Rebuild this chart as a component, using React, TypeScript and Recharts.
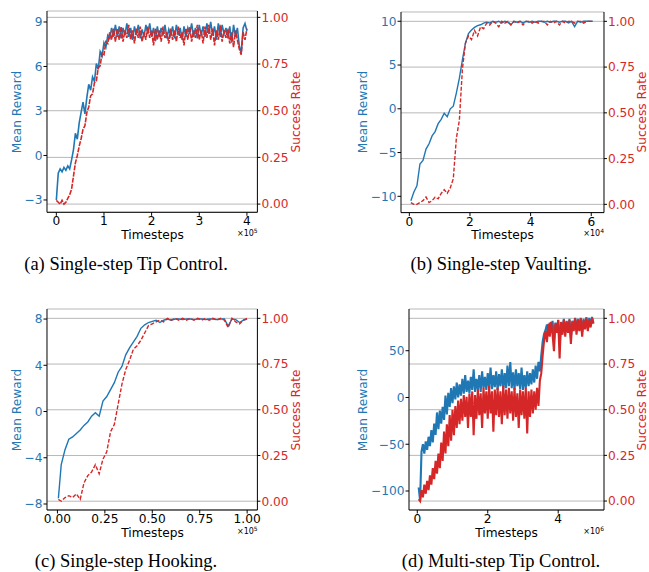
import React from 'react';
import { LineChart, Line, XAxis, YAxis, CartesianGrid } from 'recharts';

const BLUE = '#1f77b4';
const RED = '#d62728';
const FONT = '"DejaVu Sans", sans-serif';

// (a) Single-step Tip Control, timesteps x1e5
const tipSteps = [
  0, 0.04, 0.08, 0.12, 0.16, 0.2, 0.24, 0.28, 0.32, 0.36, 0.4, 0.44, 0.48, 0.52, 0.56, 0.6, 0.64, 0.68, 0.72, 0.76,
  0.8, 0.84, 0.88, 0.92, 0.96, 1.0, 1.04, 1.08, 1.12, 1.16, 1.2,
  1.24, 1.28, 1.32, 1.36, 1.4, 1.44, 1.48, 1.52, 1.56, 1.6,
  1.64, 1.68, 1.72, 1.76, 1.8, 1.84, 1.88, 1.92, 1.96, 2.0,
  2.04, 2.08, 2.12, 2.16, 2.2, 2.24, 2.28, 2.32, 2.36, 2.4,
  2.44, 2.48, 2.52, 2.56, 2.6, 2.64, 2.68, 2.72, 2.76, 2.8,
  2.84, 2.88, 2.92, 2.96, 3.0, 3.04, 3.08, 3.12, 3.16, 3.2,
  3.24, 3.28, 3.32, 3.36, 3.4, 3.44, 3.48, 3.52, 3.56, 3.6,
  3.64, 3.68, 3.72, 3.76, 3.8, 3.84, 3.88, 3.92, 3.96, 4.0,
];
const tipReward = [
  -3.0, -1.2, -0.9, -1.1, -0.8, -1.0, -0.7, -0.9, -0.3, 0.4, 1.5, 1.1, 2.2, 2.9, 3.6, 2.8, 3.9, 4.8, 4.4, 5.3,
  5.0, 6.2, 5.8, 7.0, 6.7, 7.6, 7.3, 8.1, 7.9, 8.6, 8.0,
  8.8, 8.0, 8.7, 7.9, 8.6, 8.1, 8.9, 8.0, 8.6, 7.8,
  8.7, 8.1, 8.8, 7.9, 8.5, 8.0, 8.8, 8.2, 8.9, 8.0,
  8.6, 7.7, 8.7, 8.0, 8.6, 8.1, 8.8, 7.9, 8.5, 8.1,
  8.7, 7.9, 8.8, 8.1, 8.6, 7.8, 8.7, 8.0, 8.6, 8.2,
  8.9, 8.0, 8.6, 7.9, 8.8, 8.1, 8.7, 8.0, 8.9, 8.2,
  9.0, 8.1, 8.7, 7.8, 8.9, 8.0, 8.8, 8.2, 8.6, 7.9,
  8.7, 7.6, 8.8, 8.0, 8.6, 7.4, 6.9, 8.6, 8.9, 8.4,
];
const tipSuccess = [
  0.02, 0.01, 0.0, 0.02, 0.0, 0.01, 0.03, 0.05, 0.08, 0.15, 0.22, 0.26, 0.31, 0.35, 0.4, 0.42, 0.49, 0.52, 0.58, 0.59,
  0.65, 0.66, 0.73, 0.74, 0.81, 0.8, 0.87, 0.86, 0.92, 0.88, 0.94,
  0.87, 0.94, 0.88, 0.95, 0.87, 0.93, 0.89, 0.96, 0.88, 0.93,
  0.86, 0.94, 0.89, 0.95, 0.87, 0.92, 0.88, 0.95, 0.89, 0.93,
  0.85, 0.94, 0.88, 0.93, 0.87, 0.95, 0.89, 0.92, 0.86, 0.94,
  0.88, 0.93, 0.87, 0.95, 0.89, 0.92, 0.85, 0.94, 0.88, 0.95,
  0.87, 0.93, 0.89, 0.96, 0.88, 0.93, 0.86, 0.95, 0.89, 0.96,
  0.88, 0.94, 0.85, 0.93, 0.88, 0.96, 0.87, 0.93, 0.89, 0.94,
  0.86, 0.92, 0.84, 0.93, 0.88, 0.83, 0.8, 0.92, 0.88, 0.94,
];

// (b) Single-step Vaulting, timesteps x1e4
const vaultSteps = [
  0.05, 0.15, 0.25, 0.35, 0.45, 0.55, 0.65, 0.75, 0.85, 0.95,
  1.05, 1.15, 1.25, 1.35, 1.45, 1.55, 1.65, 1.75, 1.85, 1.95,
  2.05, 2.15, 2.25, 2.35, 2.45, 2.55, 2.65, 2.75, 2.85, 2.95,
  3.05, 3.15, 3.25, 3.35, 3.45, 3.55, 3.65, 3.75, 3.85, 3.95,
  4.05, 4.15, 4.25, 4.35, 4.45, 4.55, 4.65, 4.75, 4.85, 4.95,
  5.05, 5.15, 5.25, 5.35, 5.45, 5.55, 5.65, 5.75, 5.85, 5.95, 6.05,
];
const vaultReward = [
  -10.5, -9.5, -8.8, -6.3, -5.9, -4.6, -4.0, -3.1, -2.6, -1.7,
  -1.2, -0.5, -0.9, 0.0, 0.3, 1.8, 3.5, 5.6, 7.5, 8.6,
  9.0, 9.3, 9.5, 9.6, 9.8, 9.9, 9.8, 10.0, 9.9, 10.0,
  9.8, 10.0, 9.9, 9.6, 10.0, 9.9, 10.0, 9.8, 10.0, 9.9,
  10.0, 9.9, 10.0, 10.0, 9.9, 10.0, 9.9, 10.0, 10.0, 9.9,
  10.0, 10.0, 9.8, 10.0, 9.4, 10.0, 9.9, 10.0, 10.0, 10.0, 10.0,
];
const vaultSuccess = [
  0.01, 0.0, 0.0, 0.01, 0.02, 0.04, 0.01, 0.02, 0.04, 0.03,
  0.06, 0.08, 0.06, 0.09, 0.14, 0.36, 0.46, 0.74, 0.88, 0.92,
  0.9, 0.95, 0.92, 0.97, 0.96, 0.99, 0.98, 1.0, 0.99, 0.97,
  1.0, 0.99, 1.0, 0.98, 1.0, 0.99, 1.0, 0.98, 1.0, 1.0,
  0.99, 1.0, 0.99, 1.0, 1.0, 0.98, 1.0, 0.99, 1.0, 0.98,
  1.0, 0.99, 1.0, 1.0, 0.99, 1.0, 1.0, 0.99, 1.0, 1.0, 1.0,
];

// (c) Single-step Hooking, timesteps x1e5
const hookSteps = [
  0.005, 0.02, 0.04, 0.06, 0.08, 0.1, 0.12, 0.14, 0.16, 0.18, 0.2,
  0.22, 0.24, 0.26, 0.28, 0.3, 0.32, 0.34, 0.36, 0.38, 0.4,
  0.42, 0.44, 0.46, 0.48, 0.5, 0.52, 0.54, 0.56, 0.58, 0.6,
  0.62, 0.64, 0.66, 0.68, 0.7, 0.72, 0.74, 0.76, 0.78, 0.8,
  0.82, 0.84, 0.86, 0.88, 0.9, 0.92, 0.94, 0.96, 0.98, 1.0,
];
const hookReward = [
  -7.5, -4.6, -3.3, -2.4, -2.2, -1.9, -1.6, -1.2, -0.9, -0.4, -0.1,
  -0.4, 0.9, 1.3, 1.9, 2.5, 3.4, 3.9, 4.9, 5.5, 6.0,
  6.5, 7.2, 7.5, 7.7, 7.8, 7.9, 7.7, 7.9, 8.0, 7.9,
  8.0, 8.0, 7.95, 8.0, 8.0, 7.95, 8.0, 8.0, 7.95, 8.0,
  8.0, 7.95, 8.0, 8.0, 7.4, 8.0, 7.95, 7.7, 7.9, 8.0,
];
const hookSuccess = [
  0.01, 0.0, 0.02, 0.03, 0.02, 0.04, 0.01, 0.1, 0.14, 0.16, 0.2,
  0.15, 0.23, 0.27, 0.38, 0.42, 0.53, 0.64, 0.72, 0.77, 0.83,
  0.85, 0.88, 0.92, 0.96, 0.97, 0.98, 0.99, 0.98, 1.0, 0.99,
  1.0, 0.99, 1.0, 0.99, 1.0, 0.99, 1.0, 0.99, 1.0, 0.99,
  1.0, 0.99, 1.0, 0.99, 0.95, 1.0, 0.98, 0.97, 0.99, 1.0,
];

// (d) Multi-step Tip Control, timesteps x1e6
const multiSteps = [
  0.04, 0.08, 0.12, 0.16, 0.2, 0.24, 0.28, 0.32, 0.36, 0.4,
  0.44, 0.48, 0.52, 0.56, 0.6, 0.64, 0.68, 0.72, 0.76, 0.8,
  0.84, 0.88, 0.92, 0.96, 1.0, 1.04, 1.08, 1.12, 1.16, 1.2,
  1.24, 1.28, 1.32, 1.36, 1.4, 1.44, 1.48, 1.52, 1.56, 1.6,
  1.64, 1.68, 1.72, 1.76, 1.8, 1.84, 1.88, 1.92, 1.96, 2.0,
  2.04, 2.08, 2.12, 2.16, 2.2, 2.24, 2.28, 2.32, 2.36, 2.4,
  2.44, 2.48, 2.52, 2.56, 2.6, 2.64, 2.68, 2.72, 2.76, 2.8,
  2.84, 2.88, 2.92, 2.96, 3.0, 3.04, 3.08, 3.12, 3.16, 3.2,
  3.24, 3.28, 3.32, 3.36, 3.4, 3.44, 3.48, 3.52, 3.56, 3.6,
  3.64, 3.68, 3.72, 3.76, 3.8, 3.84, 3.88, 3.92, 3.96, 4.0,
  4.04, 4.08, 4.12, 4.16, 4.2, 4.24, 4.28, 4.32, 4.36, 4.4,
  4.44, 4.48, 4.52, 4.56, 4.6, 4.64, 4.68, 4.72, 4.76, 4.8,
  4.84, 4.88, 4.92, 4.96, 5.0,
];
const multiReward = [
  -96, -110, -58, -50, -60, -47, -56, -42, -52, -35,
  -48, -28, -40, -16, -34, -14, -28, -10, -24, 2,
  -18, 5, -10, 10, -6, 12, -2, 16, 0, 14,
  2, 20, 4, 24, 6, 18, 5, 22, 8, 30,
  6, 20, 8, 24, 6, 28, 10, 22, 8, 26,
  10, 32, 9, 24, 11, 28, 8, 25, 12, 30,
  9, 26, 10, 34, 12, 38, 10, 27, 8, 30,
  12, 26, 9, 32, 8, 24, 10, 28, 12, 26,
  14, 30, 16, 34, 20, 38, 28, 45, 60, 68,
  72, 78, 66, 80, 70, 82, 62, 80, 72, 83,
  55, 80, 74, 84, 70, 82, 72, 84, 64, 82,
  74, 85, 72, 84, 75, 85, 70, 84, 76, 86,
  74, 85, 77, 86, 80,
];
const multiSuccess = [
  0.01, 0.0, 0.06, 0.02, 0.09, 0.04, 0.11, 0.06, 0.14, 0.09,
  0.18, 0.12, 0.22, 0.15, 0.26, 0.18, 0.32, 0.22, 0.38, 0.26,
  0.42, 0.3, 0.47, 0.33, 0.5, 0.36, 0.52, 0.4, 0.55, 0.42,
  0.56, 0.44, 0.58, 0.46, 0.57, 0.4, 0.59, 0.46, 0.6, 0.36,
  0.58, 0.45, 0.61, 0.47, 0.59, 0.4, 0.62, 0.48, 0.6, 0.45,
  0.63, 0.48, 0.6, 0.38, 0.61, 0.47, 0.62, 0.46, 0.6, 0.42,
  0.63, 0.47, 0.61, 0.45, 0.62, 0.48, 0.6, 0.44, 0.62, 0.46,
  0.59, 0.4, 0.61, 0.47, 0.6, 0.45, 0.62, 0.37, 0.6, 0.46,
  0.61, 0.48, 0.6, 0.5, 0.62, 0.52, 0.66, 0.7, 0.8, 0.88,
  0.93, 0.87, 0.97, 0.9, 0.98, 0.91, 0.82, 0.97, 0.92, 0.99,
  0.78, 0.98, 0.91, 0.99, 0.9, 0.98, 0.92, 0.99, 0.86, 0.98,
  0.93, 1.0, 0.91, 0.99, 0.93, 1.0, 0.9, 0.99, 0.94, 1.0,
  0.93, 0.99, 0.95, 1.0, 0.97,
];

const successTicks = [0, 0.25, 0.5, 0.75, 1];

const fmt = (digits: number) => (v: number) => {
  const s = Math.abs(v).toFixed(digits);
  return v < 0 ? '\u2212' + s : s;
};

// fixed gutters around the plot box
const LW = 48;
const RW = 44;
const MT = 10;
const XH = 24;

type PanelProps = {
  box: [number, number, number, number];
  steps: number[];
  reward: number[];
  success: number[];
  xDomain: [number, number];
  xTicks: number[];
  xDigits: number;
  rDomain: [number, number];
  rTicks: number[];
  sDomain: [number, number];
  exp: string;
  caption: string;
  captionX: number;
  captionY: number;
  rewardLabelX: number;
  successLabelX: number;
  lineWidth: number;
  dash?: string;
};

const abs = (extra: React.CSSProperties): React.CSSProperties => ({
  position: 'absolute',
  whiteSpace: 'nowrap',
  lineHeight: 1,
  ...extra,
});

function Panel(p: PanelProps) {
  const [x0, x1, y0, y1] = p.box;
  const width = x1 - x0 + LW + RW;
  const height = y1 - y0 + MT + XH;
  const rewardData = p.steps.map((t, i) => ({ t, v: p.reward[i] }));
  const successData = p.steps.map((t, i) => ({ t, v: p.success[i] }));
  const midX = (x0 + x1) / 2;
  const midY = (y0 + y1) / 2;
  const tickFont = { fontSize: 12.2, fontFamily: FONT };

  return (
    <>
      <div style={{ position: 'absolute', left: x0 - LW, top: y0 - MT }}>
        <LineChart width={width} height={height} margin={{ top: MT, right: 0, bottom: 0, left: 0 }}>
          <CartesianGrid yAxisId="s" vertical={false} stroke="#b0b0b0" strokeWidth={0.9} />
          <XAxis
            type="number"
            dataKey="t"
            domain={p.xDomain}
            ticks={p.xTicks}
            interval={0}
            allowDataOverflow
            height={XH}
            tickFormatter={fmt(p.xDigits)}
            tick={{ ...tickFont, fill: '#000' }}
            tickSize={3.5}
            tickMargin={1}
            axisLine={{ stroke: '#000', strokeWidth: 1 }}
            tickLine={{ stroke: '#000' }}
          />
          <XAxis
            xAxisId="top"
            orientation="top"
            type="number"
            dataKey="t"
            domain={p.xDomain}
            allowDataOverflow
            height={0}
            tick={false}
            tickLine={false}
            axisLine={{ stroke: '#000', strokeWidth: 1 }}
          />
          <YAxis
            yAxisId="r"
            type="number"
            domain={p.rDomain}
            ticks={p.rTicks}
            interval={0}
            allowDataOverflow
            width={LW}
            tickFormatter={fmt(0)}
            tick={{ ...tickFont, fill: BLUE }}
            tickSize={3.5}
            tickMargin={1}
            axisLine={{ stroke: '#000', strokeWidth: 1 }}
            tickLine={{ stroke: '#000' }}
          />
          <YAxis
            yAxisId="s"
            orientation="right"
            type="number"
            domain={p.sDomain}
            ticks={successTicks}
            interval={0}
            allowDataOverflow
            width={RW}
            tickFormatter={fmt(2)}
            tick={{ ...tickFont, fill: RED }}
            tickSize={3}
            tickMargin={1}
            axisLine={{ stroke: '#000', strokeWidth: 1 }}
            tickLine={{ stroke: '#000' }}
          />
          <Line
            yAxisId="r"
            data={rewardData}
            dataKey="v"
            type="linear"
            stroke={BLUE}
            strokeWidth={p.lineWidth}
            dot={false}
            activeDot={false}
            isAnimationActive={false}
          />
          <Line
            yAxisId="s"
            data={successData}
            dataKey="v"
            type="linear"
            stroke={RED}
            strokeWidth={p.lineWidth}
            strokeDasharray={p.dash}
            dot={false}
            activeDot={false}
            isAnimationActive={false}
          />
        </LineChart>
      </div>
      <div style={abs({ left: p.rewardLabelX, top: midY, transform: 'translate(-50%, -50%) rotate(-90deg)', color: BLUE, fontFamily: FONT, fontSize: 12.2 })}>
        Mean Reward
      </div>
      <div style={abs({ left: p.successLabelX, top: midY, transform: 'translate(-50%, -50%) rotate(-90deg)', color: RED, fontFamily: FONT, fontSize: 12.2 })}>
        Success Rate
      </div>
      <div style={abs({ left: midX, top: y1 + 23, transform: 'translate(-50%, -50%)', fontFamily: FONT, fontSize: 12.2 })}>
        Timesteps
      </div>
      <div style={abs({ left: x1, top: y1 + 21, transform: 'translate(-100%, -50%)', fontFamily: FONT, fontSize: 8 })}>
        {'\u00d7'}10<sup style={{ fontSize: 6 }}>{p.exp}</sup>
      </div>
      <div style={abs({ left: p.captionX, top: p.captionY, transform: 'translate(-50%, -50%)', fontFamily: '"Liberation Serif", serif', fontSize: 18.5 })}>
        {p.caption}
      </div>
    </>
  );
}

export default function App() {
  return (
    <div style={{ position: 'absolute', left: 0, top: 0, width: 649, height: 572, background: '#fff', overflow: 'hidden' }}>
      <Panel
        box={[47.3, 257.7, 11, 212.3]}
        steps={tipSteps}
        reward={tipReward}
        success={tipSuccess}
        xDomain={[-0.196, 4.22]}
        xTicks={[0, 1, 2, 3, 4]}
        xDigits={0}
        rDomain={[-3.83, 9.74]}
        rTicks={[-3, 0, 3, 6, 9]}
        sDomain={[-0.044, 1.034]}
        exp="5"
        caption="(a) Single-step Tip Control."
        captionX={126}
        captionY={264}
        rewardLabelX={17.3}
        successLabelX={295.7}
        lineWidth={1.6}
        dash="5 1.2"
      />
      <Panel
        box={[401, 604, 11.7, 212.3]}
        steps={vaultSteps}
        reward={vaultReward}
        success={vaultSuccess}
        xDomain={[-0.275, 6.42]}
        xTicks={[0, 2, 4, 6]}
        xDigits={0}
        rDomain={[-11.86, 11.06]}
        rTicks={[-10, -5, 0, 5, 10]}
        sDomain={[-0.045, 1.051]}
        exp="4"
        caption="(b) Single-step Vaulting."
        captionX={501}
        captionY={264}
        rewardLabelX={363.3}
        successLabelX={641.7}
        lineWidth={1.4}
        dash="4 1.8"
      />
      <Panel
        box={[47.3, 257.7, 309, 510]}
        steps={hookSteps}
        reward={hookReward}
        success={hookSuccess}
        xDomain={[-0.055, 1.054]}
        xTicks={[0, 0.25, 0.5, 0.75, 1]}
        xDigits={2}
        rDomain={[-8.52, 8.87]}
        rTicks={[-8, -4, 0, 4, 8]}
        sDomain={[-0.048, 1.051]}
        exp="5"
        caption="(c) Single-step Hooking."
        captionX={126}
        captionY={561}
        rewardLabelX={17.3}
        successLabelX={295.7}
        lineWidth={1.4}
        dash="4 1.8"
      />
      <Panel
        box={[409, 604, 309, 510]}
        steps={multiSteps}
        reward={multiReward}
        success={multiSuccess}
        xDomain={[-0.235, 5.3]}
        xTicks={[0, 2, 4]}
        xDigits={0}
        rDomain={[-120.3, 94.6]}
        rTicks={[-100, -50, 0, 50]}
        sDomain={[-0.049, 1.051]}
        exp="6"
        caption="(d) Multi-step Tip Control."
        captionX={501}
        captionY={561}
        rewardLabelX={363.3}
        successLabelX={641.7}
        lineWidth={2.1}
      />
    </div>
  );
}
